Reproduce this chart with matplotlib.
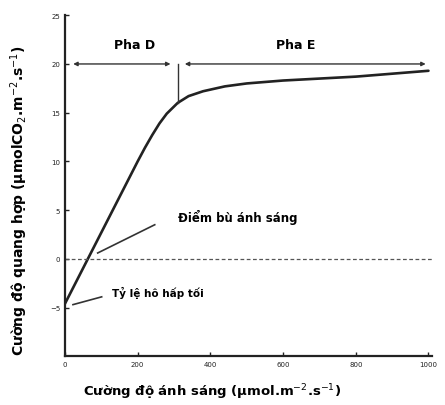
import matplotlib.pyplot as plt

# light response curve of photosynthesis
light = [0, 100, 200, 220, 240, 260, 280, 310, 340, 380, 440, 500, 600, 700, 800, 900, 1000]
rate = [-4.6, 2.7, 10.0, 11.4, 12.7, 13.9, 14.9, 16.0, 16.7, 17.2, 17.7, 18.0, 18.3, 18.5, 18.7, 19.0, 19.3]

y_ticks = [-5, 0, 5, 10, 15, 20, 25]
x_ticks = [0, 200, 400, 600, 800, 1000]

phase_split = 310     # boundary between phase D and phase E
phase_level = 20
dark_resp = -4.6
comp_point = 63

fig = plt.figure(figsize=(4.45, 4.06), dpi=100)
ax = fig.add_axes([0.146, 0.12, 0.825, 0.84])

ax.plot(light, rate, color='#222222', lw=1.9, solid_capstyle='round',
        solid_joinstyle='round')

# compensation line
ax.axhline(0, color='#555555', lw=0.9, ls=(0, (3, 2)))

# phase arrows
arrow = dict(arrowstyle='<|-|>', color='#333333', lw=1.0, mutation_scale=6)
ax.annotate('', xy=(15, phase_level), xytext=(phase_split - 12, phase_level), arrowprops=arrow)
ax.annotate('', xy=(phase_split + 12, phase_level), xytext=(1000, phase_level), arrowprops=arrow)
ax.plot([phase_split, phase_split], [phase_level, 16.0], color='#333333', lw=1.0)
ax.text(192, 22.0, 'Pha D', fontsize=9, fontweight='bold', ha='center', va='center')
ax.text(636, 22.0, 'Pha E', fontsize=9, fontweight='bold', ha='center', va='center')

# leader lines and notes
ax.plot([comp_point + 27, 247], [0.6, 3.5], color='#333333', lw=1.2)
ax.text(310, 4.3, 'Điểm bù ánh sáng', fontsize=8.5, fontweight='bold', va='center')
ax.plot([22, 101], [dark_resp - 0.1, -3.9], color='#333333', lw=1.2)
ax.text(129, -3.4, 'Tỷ lệ hô hấp tối', fontsize=7.5, fontweight='bold', va='center')

ax.set_xlim(0, 1010)
ax.set_ylim(-10, 25)
ax.set_yticks(y_ticks)
ax.set_xticks(x_ticks)
ax.tick_params(direction='in', length=3, width=1, labelsize=5, colors='#222222')
for s in ['top', 'right']:
    ax.spines[s].set_visible(False)
for s in ['left', 'bottom']:
    ax.spines[s].set_linewidth(1.6)
    ax.spines[s].set_color('#222222')

ax.set_xlabel('Cường độ ánh sáng (µmol.m$^{-2}$.s$^{-1}$)', fontsize=9.5,
              fontweight='bold')
ax.set_ylabel('Cường độ quang hợp (µmolCO$_2$.m$^{-2}$.s$^{-1}$)', fontsize=10,
              fontweight='bold')
ax.xaxis.set_label_coords(0.40, -0.075)
ax.yaxis.set_label_coords(-0.095, 0.46)

fig.savefig('out.png', dpi=100)
